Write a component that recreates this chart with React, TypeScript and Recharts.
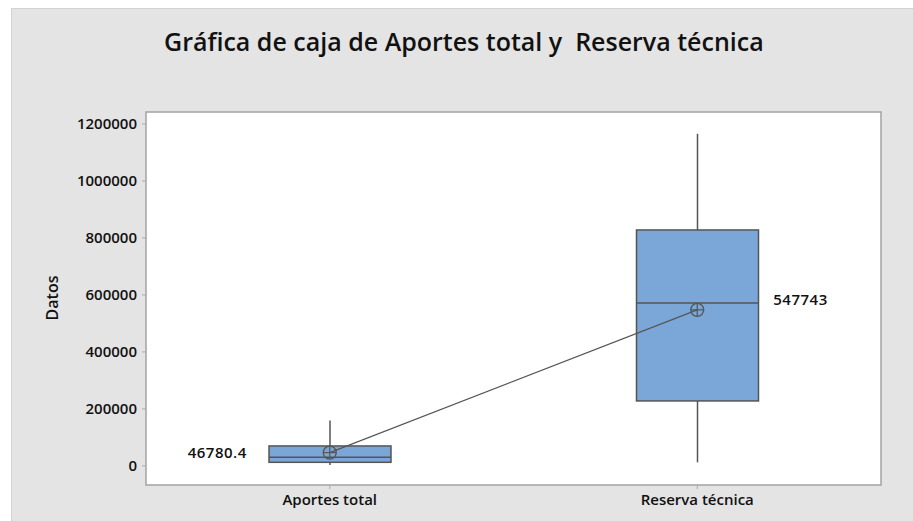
import { ComposedChart, Bar, Line, XAxis, YAxis, ReferenceArea } from 'recharts'

const categories = ['Aportes total', 'Reserva técnica']
const minimos = [3500, 12600]
const cuartil1 = [12600, 228000]
const medianas = [30000, 572000]
const cuartil3 = [70000, 828000]
const maximos = [159000, 1166000]
const medias = [46780.4, 547743]

const yTicks = [0, 200000, 400000, 600000, 800000, 1000000, 1200000]
const yDomain: [number, number] = [-67000, 1242000]

const data = categories.map((name, i) => ({
  name,
  box: [cuartil1[i], cuartil3[i]],
  min: minimos[i],
  q1: cuartil1[i],
  median: medianas[i],
  q3: cuartil3[i],
  max: maximos[i],
  mean: medias[i],
}))

const FONT = '"Open Sans", "Noto Sans", sans-serif'
const INK = '#555'

const BoxShape = (props: any) => {
  const { x, y, width, height, payload } = props
  const { min, q1, median, q3, max } = payload
  const unit = height / (q3 - q1)
  const toY = (v: number) => y + (q3 - v) * unit
  const cx = x + width / 2
  return (
    <g>
      <line x1={cx} x2={cx} y1={toY(max)} y2={y} stroke={INK} strokeWidth={1.5} />
      <line x1={cx} x2={cx} y1={y + height} y2={toY(min)} stroke={INK} strokeWidth={1.5} />
      <rect x={x} y={y} width={width} height={height} fill="#7BA6D8" stroke={INK} strokeWidth={1.5} />
      <line x1={x} x2={x + width} y1={toY(median)} y2={toY(median)} stroke={INK} strokeWidth={1.5} />
    </g>
  )
}

const MeanDot = (props: any) => {
  const { cx, cy, index } = props
  return (
    <g key={'m' + index}>
      <circle cx={cx} cy={cy} r={6.5} fill="none" stroke={INK} strokeWidth={1.3} />
      <line x1={cx - 6.5} x2={cx + 6.5} y1={cy} y2={cy} stroke={INK} strokeWidth={1.2} />
      <line x1={cx} x2={cx} y1={cy - 6.5} y2={cy + 6.5} stroke={INK} strokeWidth={1.2} />
    </g>
  )
}

const MeanLabel = (props: any) => {
  const { x, y, value, index } = props
  const left = index === 0
  return (
    <text
      x={left ? x - 83 : x + 76}
      y={left ? y + 5 : y - 5}
      textAnchor={left ? 'end' : 'start'}
      fontSize={15}
      fontWeight={600}
      fontFamily={FONT}
      fill="#111"
      letterSpacing={0.5}
    >
      {value}
    </text>
  )
}

export default function App() {
  return (
    <div style={{ position: 'fixed', left: 0, top: 0, width: 913, height: 521, overflow: 'hidden', background: '#fff' }}>
      <div style={{ position: 'absolute', left: 11, top: 8, width: 902, height: 513, background: '#e4e4e4', borderLeft: '1px solid #d2d2d2', borderTop: '1px solid #d2d2d2', boxSizing: 'border-box' }}>
        <div style={{ position: 'absolute', left: 152, top: 17, fontFamily: FONT, fontSize: 25, fontWeight: 600, color: '#111', whiteSpace: 'pre', lineHeight: '30px' }}>
          {'Gráfica de caja de Aportes total y  Reserva técnica'}
        </div>
        <div style={{ position: 'absolute', left: 40 - 30, top: 289 - 12, width: 60, height: 24, transform: 'rotate(-90deg)', textAlign: 'center', fontFamily: FONT, fontSize: 16, fontWeight: 600, color: '#111', lineHeight: '24px' }}>
          Datos
        </div>
        <ComposedChart
          width={902}
          height={513}
          data={data}
          margin={{ top: 103, right: 33, bottom: 0, left: 0 }}
          style={{ fontFamily: FONT }}
        >
          <ReferenceArea y1={yDomain[0]} y2={yDomain[1]} fill="#fff" fillOpacity={1} stroke="#a3a3a3" strokeWidth={1.5} ifOverflow="visible" />
          <XAxis
            dataKey="name"
            type="category"
            height={37}
            axisLine={false}
            tickSize={4}
            tickMargin={5}
            tickLine={{ stroke: '#aaa' }}
            tick={{ fill: '#111', fontSize: 15, fontWeight: 600, fontFamily: FONT }}
          />
          <YAxis
            type="number"
            domain={yDomain}
            ticks={yTicks}
            allowDataOverflow
            width={134}
            axisLine={false}
            tickSize={4}
            tickMargin={5}
            tickLine={{ stroke: '#aaa' }}
            tick={{ fill: '#111', fontSize: 15, fontWeight: 600, fontFamily: FONT }}
          />
          <Bar dataKey="box" barSize={122} shape={<BoxShape />} isAnimationActive={false} />
          <Line
            dataKey="mean"
            stroke={INK}
            strokeWidth={1.2}
            dot={MeanDot}
            activeDot={false}
            label={MeanLabel}
            isAnimationActive={false}
          />
        </ComposedChart>
      </div>
    </div>
  )
}
